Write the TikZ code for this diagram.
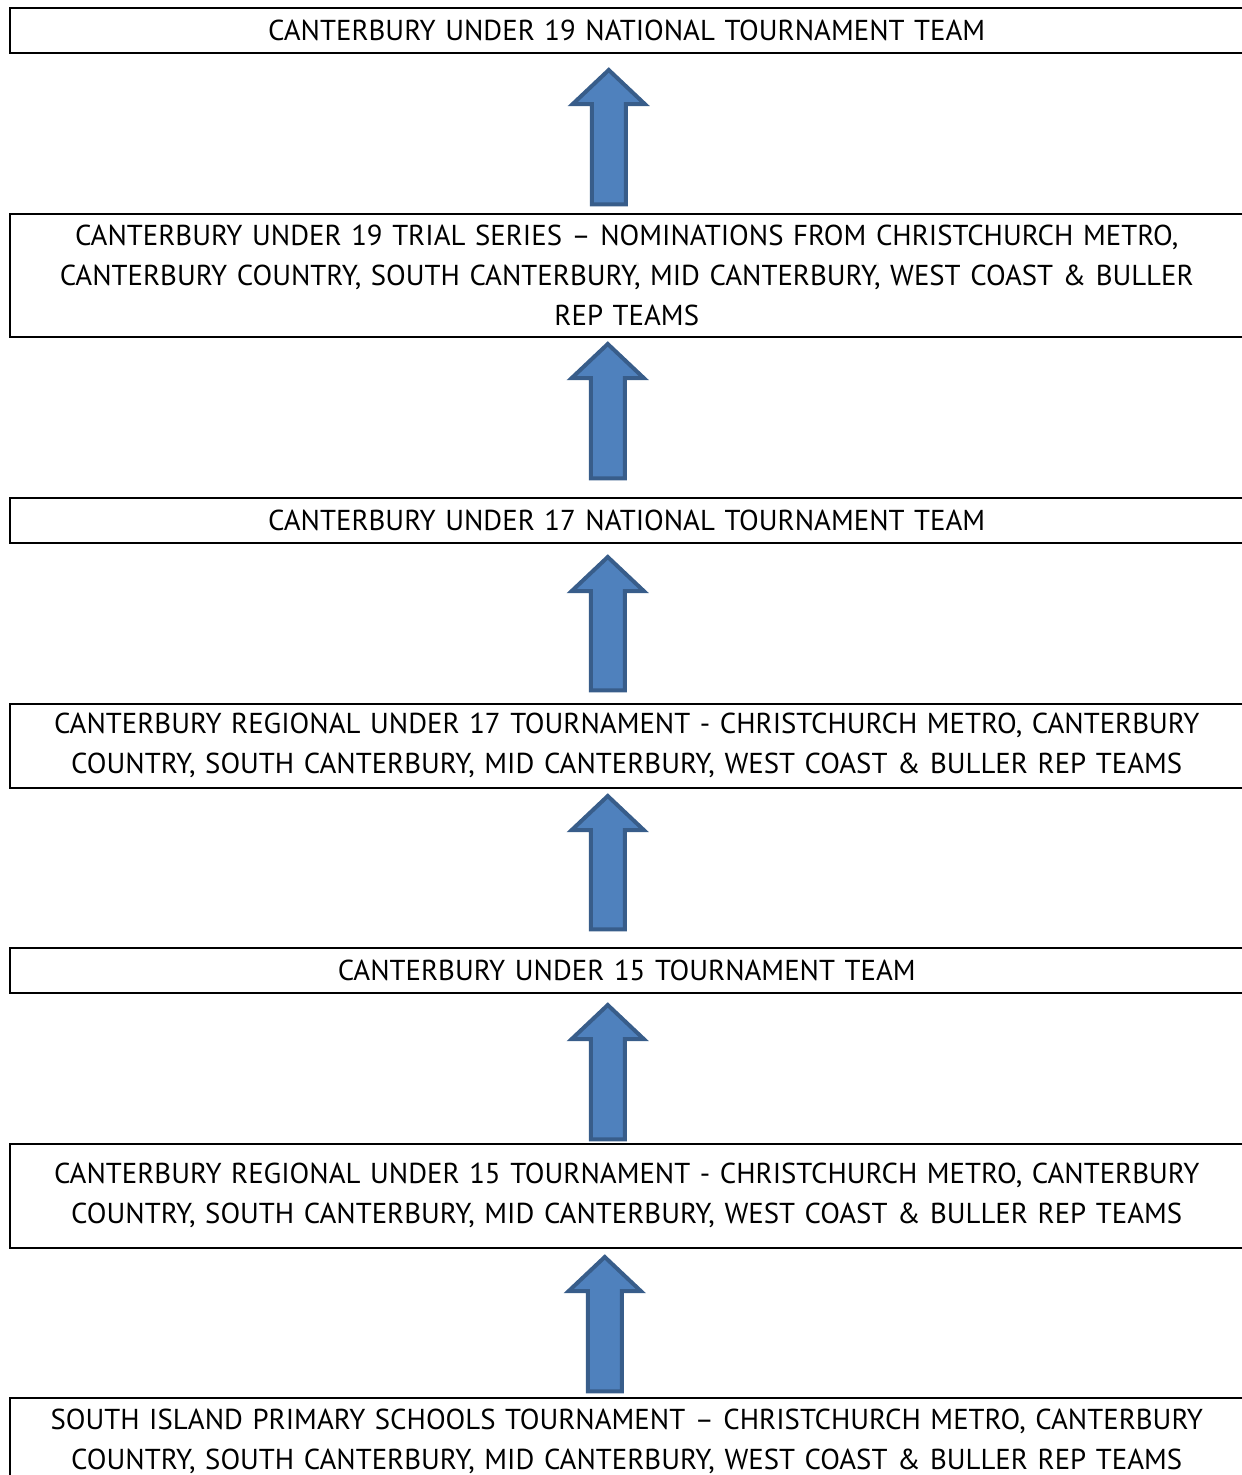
\documentclass[tikz,border=0pt]{standalone}
\usepackage{fontspec}
\setmainfont{PT Sans}
\usetikzlibrary{calc}
\definecolor{arrowfill}{HTML}{4F81BD}
\definecolor{arrowedge}{HTML}{385D8A}
\tikzset{
  stage/.style={draw, line width=1.5pt, inner sep=0pt, text width=1234pt,
    align=center, anchor=north west, font=\fontsize{28.8}{40}\selectfont},
  uparrow/.style={draw=arrowedge, fill=arrowfill, line width=4pt,
    to path={let \p1=(\tikztostart), \p2=(\tikztotarget) in
      (\x1-17pt,\y1) -- (\x1-17pt,\y2-34pt) -- (\x1-36pt,\y2-34pt) -- (\x1,\y2)
      -- (\x1+36pt,\y2-34pt) -- (\x1+17pt,\y2-34pt) -- (\x1+17pt,\y1) -- cycle}}
}
\begin{document}
\begin{tikzpicture}[x=1pt,y=-1pt]
    \useasboundingbox (0,0) rectangle (1242,1475);

    \node[stage, minimum height=45pt] (u19team) at (9,7) {CANTERBURY UNDER 19 NATIONAL TOURNAMENT TEAM};
    \node[stage, minimum height=123pt] (u19trial) at (9,213) {CANTERBURY UNDER 19 TRIAL SERIES – NOMINATIONS FROM CHRISTCHURCH METRO,\\CANTERBURY COUNTRY, SOUTH CANTERBURY, MID CANTERBURY, WEST COAST \& BULLER\\REP TEAMS};
    \node[stage, minimum height=45pt] (u17team) at (9,497) {CANTERBURY UNDER 17 NATIONAL TOURNAMENT TEAM};
    \node[stage, minimum height=84pt] (u17region) at (9,703) {CANTERBURY REGIONAL UNDER 17 TOURNAMENT - CHRISTCHURCH METRO, CANTERBURY\\COUNTRY, SOUTH CANTERBURY, MID CANTERBURY, WEST COAST \& BULLER REP TEAMS};
    \node[stage, minimum height=45pt] (u15team) at (9,947) {CANTERBURY UNDER 15 TOURNAMENT TEAM};
    \node[stage, minimum height=104pt] (u15region) at (9,1143) {CANTERBURY REGIONAL UNDER 15 TOURNAMENT - CHRISTCHURCH METRO, CANTERBURY\\COUNTRY, SOUTH CANTERBURY, MID CANTERBURY, WEST COAST \& BULLER REP TEAMS};
    \node[stage, minimum height=88pt] (primary) at (9,1397) {SOUTH ISLAND PRIMARY SCHOOLS TOURNAMENT – CHRISTCHURCH METRO, CANTERBURY\\COUNTRY, SOUTH CANTERBURY, MID CANTERBURY, WEST COAST \& BULLER REP TEAMS};

    % arrows, bottom up
    \draw[uparrow] ([xshift=-18pt,yshift=8.75pt]u19trial.north) to ([xshift=-18pt,yshift=-16.5pt]u19team.south);
    \draw[uparrow] ([xshift=-19pt,yshift=18.75pt]u17team.north) to ([xshift=-19pt,yshift=-6.5pt]u19trial.south);
    \draw[uparrow] ([xshift=-19pt,yshift=12.75pt]u17region.north) to ([xshift=-19pt,yshift=-13.5pt]u17team.south);
    \draw[uparrow] ([xshift=-19pt,yshift=17.75pt]u15team.north) to ([xshift=-19pt,yshift=-7.5pt]u17region.south);
    \draw[uparrow] ([xshift=-19pt,yshift=3.75pt]u15region.north) to ([xshift=-19pt,yshift=-11.5pt]u15team.south);
    \draw[uparrow] ([xshift=-22pt,yshift=5.75pt]primary.north) to ([xshift=-22pt,yshift=-8.5pt]u15region.south);

\end{tikzpicture}
\end{document}
